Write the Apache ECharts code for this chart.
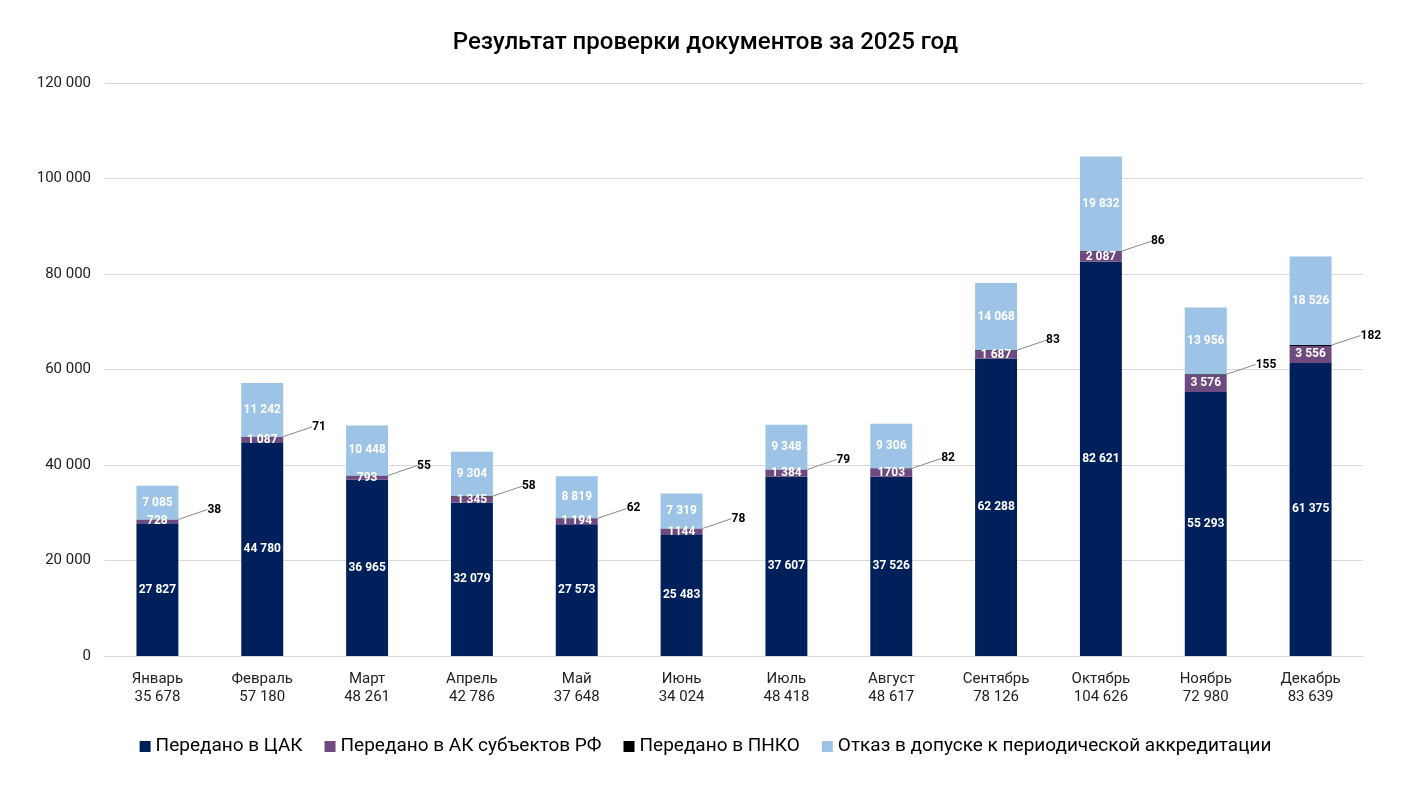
<!DOCTYPE html>
<html>
<head>
<meta charset="utf-8">
<script src="https://cdn.jsdelivr.net/npm/echarts@6/dist/echarts.min.js"></script>
<style>html,body{margin:0;padding:0;background:#fff}#chart{width:1411px;height:793px}</style>
</head>
<body>
<div id="chart"></div>
<script>
const months = ['Январь','Февраль','Март','Апрель','Май','Июнь','Июль','Август','Сентябрь','Октябрь','Ноябрь','Декабрь'];
const totals = ['35 678','57 180','48 261','42 786','37 648','34 024','48 418','48 617','78 126','104 626','72 980','83 639'];
const cak = [27827,44780,36965,32079,27573,25483,37607,37526,62288,82621,55293,61375];
const ak = [728,1087,793,1345,1194,1144,1384,1703,1687,2087,3576,3556];
const pnko = [38,71,55,58,62,78,79,82,83,86,155,182];
const refuse = [7085,11242,10448,9304,8819,7319,9348,9306,14068,19832,13956,18526];
const akText = ['728','1 087','793','1 345','1 194','1144','1 384','1703','1 687','2 087','3 576','3 556'];

const fmt = v => String(v).replace(/\B(?=(\d{3})+(?!\d))/g, ' ');
const inLabel = {show:true, color:'#fff', fontWeight:'bold', fontSize:12, fontFamily:'Roboto', formatter:p=>fmt(p.value)};

const chart = echarts.init(document.getElementById('chart'));
chart.setOption({
  textStyle:{fontFamily:'Roboto'},
  title:{text:'Результат проверки документов за 2025 год', left:'center', top:26,
    textStyle:{fontSize:24, fontWeight:'500', color:'#000', fontFamily:'Roboto'}},
  grid:{left:105, right:48, top:83, bottom:137},
  legend:{bottom:32, itemWidth:11, itemHeight:11, itemGap:22, icon:'rect',
    textStyle:{fontSize:19, color:'#000', fontFamily:'Roboto'}},
  xAxis:{type:'category', data:months,
    axisLine:{lineStyle:{color:'#d9d9d9'}}, axisTick:{show:false},
    axisLabel:{color:'#222', fontSize:15, lineHeight:18, margin:14,
      formatter:(v,i)=>v+'\n'+totals[i]}},
  yAxis:{type:'value', min:0, max:120000, interval:20000,
    axisLabel:{color:'#222', fontSize:15, margin:14, formatter:v=>fmt(v)},
    splitLine:{lineStyle:{color:'#d9d9d9'}}},
  series:[
    {name:'Передано в ЦАК', type:'bar', stack:'s', data:cak, barWidth:'40%',
      itemStyle:{color:'#00205b'}, label:inLabel},
    {name:'Передано в АК субъектов РФ', type:'bar', stack:'s', data:ak,
      itemStyle:{color:'#6f4a80'}, label:Object.assign({}, inLabel, {formatter:p=>akText[p.dataIndex]})},
    {name:'Передано в ПНКО', type:'bar', stack:'s', data:pnko,
      itemStyle:{color:'#000'},
      label:{show:true, position:'right', color:'#000', fontWeight:'bold', fontSize:12, formatter:p=>p.value},
      labelLayout:{dx:24, dy:-10},
      labelLine:{show:true, lineStyle:{color:'#888', width:1}}},
    {name:'Отказ в допуске к периодической аккредитации', type:'bar', stack:'s', data:refuse,
      itemStyle:{color:'#9dc3e6'}, label:inLabel}
  ]
});
</script>
</body>
</html>
